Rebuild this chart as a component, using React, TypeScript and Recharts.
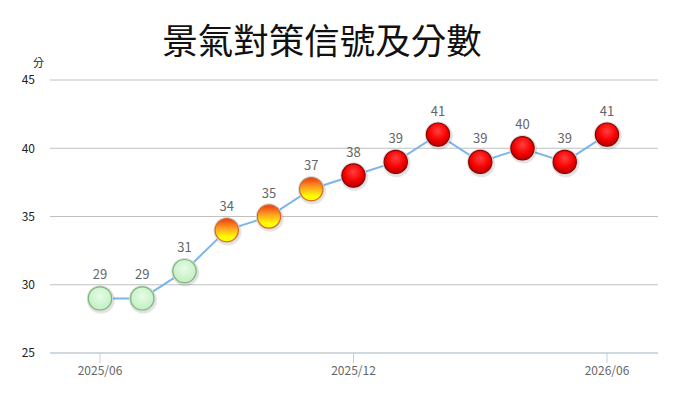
import React from "react";
import { CartesianGrid, LabelList, Line, LineChart, XAxis, YAxis } from "recharts";

const MONTHS = [
  "2025/06", "2025/07", "2025/08", "2025/09", "2025/10", "2025/11", "2025/12",
  "2026/01", "2026/02", "2026/03", "2026/04", "2026/05", "2026/06",
];
const SCORES = [29, 29, 31, 34, 35, 37, 38, 39, 41, 39, 40, 39, 41];
const SIGNALS = [
  "green", "green", "green", "yellowRed", "yellowRed", "yellowRed", "red",
  "red", "red", "red", "red", "red", "red",
];
const Y_TICKS = [25, 30, 35, 40, 45];

const TITLE = "景氣對策信號及分數";
const UNIT = "分";
const FONT = "'Noto Sans CJK TC', 'Noto Sans', sans-serif";

const data = MONTHS.map((m, i) => ({ month: m, score: SCORES[i] }));

const EDGE: Record<string, string> = {
  green: "#78b878",
  yellowRed: "#d9682a",
  red: "#8a0000",
};

function SignalDot(props: any) {
  const { cx, cy, index } = props;
  if (cx == null || cy == null) return null;
  const s = SIGNALS[index];
  return (
    <g key={`dot-${index}`}>
      <circle cx={cx + 1} cy={cy + 1.5} r={13.8} fill="#000" opacity={0.1} />
      <circle cx={cx} cy={cy} r={13.2} fill="#dadada" />
      <circle cx={cx} cy={cy} r={11.6} fill={`url(#sig-${s})`} stroke={EDGE[s]} strokeWidth={1.2} />
    </g>
  );
}

export default function App() {
  return (
    <div style={{ position: "absolute", left: 0, top: 0, width: 700, height: 400, background: "#fff", fontFamily: FONT }}>
      <div
        style={{
          position: "absolute",
          left: 0,
          width: 644,
          top: 14,
          textAlign: "center",
          fontSize: 35.5,
          lineHeight: "50px",
          color: "#111",
        }}
      >
        {TITLE}
      </div>
      <div style={{ position: "absolute", left: 33, top: 54, fontSize: 11, color: "#222" }}>{UNIT}</div>
      <LineChart
        width={700}
        height={400}
        data={data}
        margin={{ top: 80, right: 42, bottom: 0, left: 0 }}
        style={{ position: "absolute", left: 0, top: 0 }}
      >
        <defs>
          <radialGradient id="sig-green" cx="50%" cy="40%" r="60%">
            <stop offset="0%" stopColor="#e6fce6" />
            <stop offset="100%" stopColor="#c2efc2" />
          </radialGradient>
          <radialGradient id="sig-red" cx="50%" cy="35%" r="65%">
            <stop offset="0%" stopColor="#ff4040" />
            <stop offset="60%" stopColor="#f80000" />
            <stop offset="100%" stopColor="#b00000" />
          </radialGradient>
          <linearGradient id="sig-yellowRed" x1="0" y1="0" x2="0" y2="1">
            <stop offset="0%" stopColor="#ec3a12" />
            <stop offset="45%" stopColor="#ffa820" />
            <stop offset="80%" stopColor="#ffff00" />
          </linearGradient>
        </defs>
        <CartesianGrid vertical={false} stroke="#c0c0c0" />
        <XAxis
          dataKey="month"
          interval={5}
          height={47}
          padding={{ left: 50, right: 51 }}
          stroke="#c0d0e0"
          tickSize={10}
          tickMargin={3}
          tick={{ fill: "#666", fontSize: 12, fontFamily: FONT }}
        />
        <YAxis
          domain={[25, 45]}
          ticks={Y_TICKS}
          width={50}
          axisLine={false}
          tickLine={false}
          tickMargin={9}
          tick={{ fill: "#222", fontSize: 12, fontFamily: FONT }}
        />
        <Line
          type="linear"
          dataKey="score"
          stroke="#7cb5ec"
          strokeWidth={2}
          dot={<SignalDot />}
          activeDot={false}
          isAnimationActive={false}
        >
          <LabelList dataKey="score" position="top" offset={19} fill="#666" fontSize={13} fontFamily={FONT} />
        </Line>
      </LineChart>
    </div>
  );
}
